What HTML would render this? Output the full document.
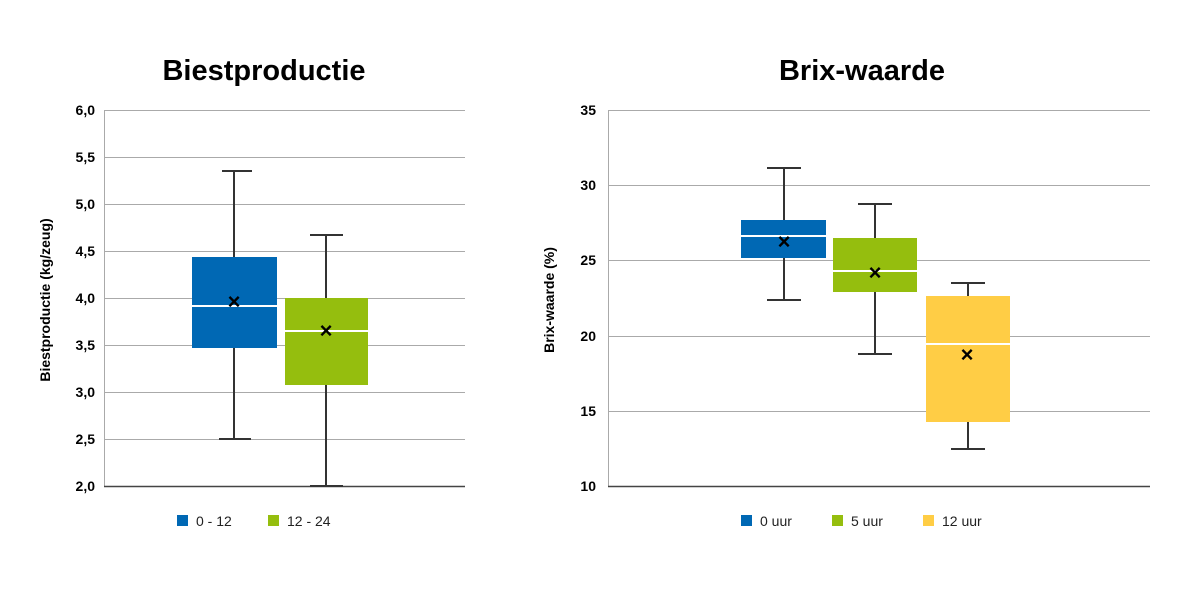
<!DOCTYPE html>
<html><head><meta charset="utf-8"><style>
body{margin:0;background:#fff;}
svg text{font-family:"Liberation Sans",Arial,sans-serif;}
</style></head><body>
<svg width="1200" height="600" xmlns="http://www.w3.org/2000/svg">
<rect width="1200" height="600" fill="#fff"/>
<text x="264" y="80" font-size="29" font-weight="bold" text-anchor="middle" fill="#000">Biestproductie</text>
<text x="862" y="80" font-size="29" font-weight="bold" text-anchor="middle" fill="#000">Brix-waarde</text>
<g stroke="#aaa" stroke-width="1">
<line x1="104" y1="110.5" x2="465" y2="110.5"/><line x1="104" y1="157.5" x2="465" y2="157.5"/><line x1="104" y1="204.5" x2="465" y2="204.5"/><line x1="104" y1="251.5" x2="465" y2="251.5"/><line x1="104" y1="298.5" x2="465" y2="298.5"/><line x1="104" y1="345.5" x2="465" y2="345.5"/><line x1="104" y1="392.5" x2="465" y2="392.5"/><line x1="104" y1="439.5" x2="465" y2="439.5"/>
<line x1="104.5" y1="110" x2="104.5" y2="486"/>
<line x1="608" y1="110.5" x2="1150" y2="110.5"/><line x1="608" y1="185.5" x2="1150" y2="185.5"/><line x1="608" y1="260.5" x2="1150" y2="260.5"/><line x1="608" y1="336.5" x2="1150" y2="336.5"/><line x1="608" y1="411.5" x2="1150" y2="411.5"/>
<line x1="608.5" y1="110" x2="608.5" y2="486"/>
</g>
<line x1="104" y1="486.5" x2="465" y2="486.5" stroke="#444" stroke-width="1.5"/>
<line x1="608" y1="486.5" x2="1150" y2="486.5" stroke="#444" stroke-width="1.5"/>
<g font-size="14" font-weight="bold" text-anchor="end" fill="#000">
<text x="95" y="115">6,0</text><text x="95" y="162">5,5</text><text x="95" y="209">5,0</text><text x="95" y="256">4,5</text><text x="95" y="303">4,0</text><text x="95" y="350">3,5</text><text x="95" y="397">3,0</text><text x="95" y="444">2,5</text><text x="95" y="491">2,0</text>
<text x="596" y="115">35</text><text x="596" y="190">30</text><text x="596" y="265">25</text><text x="596" y="341">20</text><text x="596" y="416">15</text><text x="596" y="491">10</text>
</g>
<text transform="translate(50,300) rotate(-90)" font-size="14" font-weight="bold" text-anchor="middle">Biestproductie (kg/zeug)</text>
<text transform="translate(554,300) rotate(-90)" font-size="14" font-weight="bold" text-anchor="middle">Brix-waarde (%)</text>
<g stroke="#333" stroke-width="2" fill="none">
<line x1="234" y1="171" x2="234" y2="439"/><line x1="222" y1="171" x2="252" y2="171"/><line x1="219" y1="439" x2="251" y2="439"/>
<line x1="326" y1="235" x2="326" y2="486"/><line x1="310" y1="235" x2="343" y2="235"/><line x1="310" y1="486" x2="343" y2="486"/>
<line x1="784" y1="168" x2="784" y2="300"/><line x1="767" y1="168" x2="801" y2="168"/><line x1="767" y1="300" x2="801" y2="300"/>
<line x1="875" y1="204" x2="875" y2="354"/><line x1="858" y1="204" x2="892" y2="204"/><line x1="858" y1="354" x2="892" y2="354"/>
<line x1="968" y1="283" x2="968" y2="449"/><line x1="951" y1="283" x2="985" y2="283"/><line x1="951" y1="449" x2="985" y2="449"/>
</g>
<rect x="192" y="257" width="85" height="91" fill="#0068b4"/><line x1="192" y1="306" x2="277" y2="306" stroke="#fff" stroke-width="2"/>
<rect x="285" y="298" width="83" height="87" fill="#95be0e"/><line x1="285" y1="331" x2="368" y2="331" stroke="#fff" stroke-width="2"/>
<rect x="741" y="220" width="85" height="38" fill="#0068b4"/><line x1="741" y1="236" x2="826" y2="236" stroke="#fff" stroke-width="2"/>
<rect x="833" y="238" width="84" height="54" fill="#95be0e"/><line x1="833" y1="271" x2="917" y2="271" stroke="#fff" stroke-width="2"/>
<rect x="926" y="296" width="84" height="126" fill="#ffcd45"/><line x1="926" y1="344" x2="1010" y2="344" stroke="#fff" stroke-width="2"/>
<g font-size="22" font-weight="bold" text-anchor="middle" fill="#000">
<text x="234" y="309">×</text><text x="326" y="338">×</text><text x="784" y="249">×</text><text x="875" y="280">×</text><text x="967" y="362">×</text>
</g>
<g font-size="14" fill="#222">
<rect x="177" y="515" width="11" height="11" fill="#0068b4"/><text x="196" y="526">0 - 12</text>
<rect x="268" y="515" width="11" height="11" fill="#95be0e"/><text x="287" y="526">12 - 24</text>
<rect x="741" y="515" width="11" height="11" fill="#0068b4"/><text x="760" y="526">0 uur</text>
<rect x="832" y="515" width="11" height="11" fill="#95be0e"/><text x="851" y="526">5 uur</text>
<rect x="923" y="515" width="11" height="11" fill="#ffcd45"/><text x="942" y="526">12 uur</text>
</g>
</svg>
</body></html>
